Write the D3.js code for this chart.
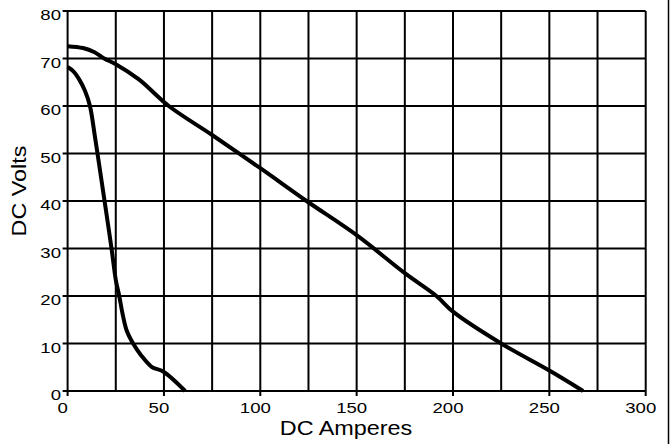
<!DOCTYPE html>
<html><head><meta charset="utf-8">
<script src="https://cdn.jsdelivr.net/npm/d3@7"></script>
<style>html,body{margin:0;padding:0;background:#fff;}svg{display:block;}</style>
</head><body>
<script>
const largeAmps  = [0,8,14,19,25,37,52.5,75,100,124,150,175,191.4,200,225,250,267.5];
const largeVolts = [72.6,72.2,71.3,70,68.8,65.6,60,53.9,46.9,40,32.8,24.8,20,16.7,10,4.3,0];
const smallAmps  = [0,3,6,9,11.6,14.2,16.5,19,21,22.9,25,26.8,28.5,30.6,34,38,43.6,49.6,61];
const smallVolts = [68.2,67.3,65.6,63.2,60,53.5,47.3,40.5,35,29.7,23.4,20,16.3,12.8,10,7.6,5.1,4.1,0];
const xGrid = d3.range(0,301,25);
const yGrid = d3.range(0,81,10);
const xTickLabels = [0,50,100,150,200,250,300];
const yTickLabels = [0,10,20,30,40,50,60,70,80];
const xTitle = "DC Amperes", yTitle = "DC Volts";

const W=671,H=444;
const svg=d3.select("body").append("svg").attr("width",W).attr("height",H);
const x=d3.scaleLinear().domain([0,300]).range([67.6,645.7]);
const y=d3.scaleLinear().domain([0,80]).range([391,11]);
const font="'Liberation Sans', Arial, Helvetica, sans-serif";
const SX=1.2;

// grid
svg.append("g").selectAll("line").data(xGrid).join("line")
  .attr("x1",d=>x(d)).attr("x2",d=>x(d)).attr("y1",y(80)).attr("y2",d=>xTickLabels.includes(d)?y(0)+5:y(0))
  .attr("stroke","#000").attr("stroke-width",2);
svg.append("g").selectAll("line").data(yGrid).join("line")
  .attr("y1",d=>y(d)).attr("y2",d=>y(d)).attr("x1",x(0)-5).attr("x2",x(300))
  .attr("stroke","#000").attr("stroke-width",2);

// tick labels
svg.append("g").selectAll("text").data(xTickLabels).join("text")
  .attr("transform",d=>`translate(${x(d)-5},413) scale(${SX},1)`)
  .attr("text-anchor","middle").attr("font-family",font).attr("font-size",15.5).text(d=>d);
svg.append("g").selectAll("text").data(yTickLabels).join("text")
  .attr("transform",d=>`translate(61,${y(d)+9}) scale(${SX},1)`)
  .attr("text-anchor","end").attr("font-family",font).attr("font-size",15.5).text(d=>d);

// titles
svg.append("text").attr("transform",`translate(346,435) scale(${SX},1)`)
  .attr("text-anchor","middle").attr("font-family",font).attr("font-size",19.5).text(xTitle);
svg.append("text").attr("transform",`translate(26,191) rotate(-90) scale(${SX},1)`)
  .attr("text-anchor","middle").attr("font-family",font).attr("font-size",19.5).text(yTitle);

// curves
const line=d3.line().x(d=>x(d[0])).y(d=>y(d[1])).curve(d3.curveCatmullRom.alpha(0.5));
svg.append("path").datum(largeAmps.map((a,i)=>[a,largeVolts[i]])).attr("d",line)
  .attr("fill","none").attr("stroke","#000").attr("stroke-width",4).attr("stroke-linejoin","round");
svg.append("path").datum(smallAmps.map((a,i)=>[a,smallVolts[i]])).attr("d",line)
  .attr("fill","none").attr("stroke","#000").attr("stroke-width",4).attr("stroke-linejoin","round");

// right border
svg.append("line").attr("x1",668.5).attr("x2",668.5).attr("y1",0).attr("y2",H)
  .attr("stroke","#000").attr("stroke-width",1.5);
</script>
</body></html>
